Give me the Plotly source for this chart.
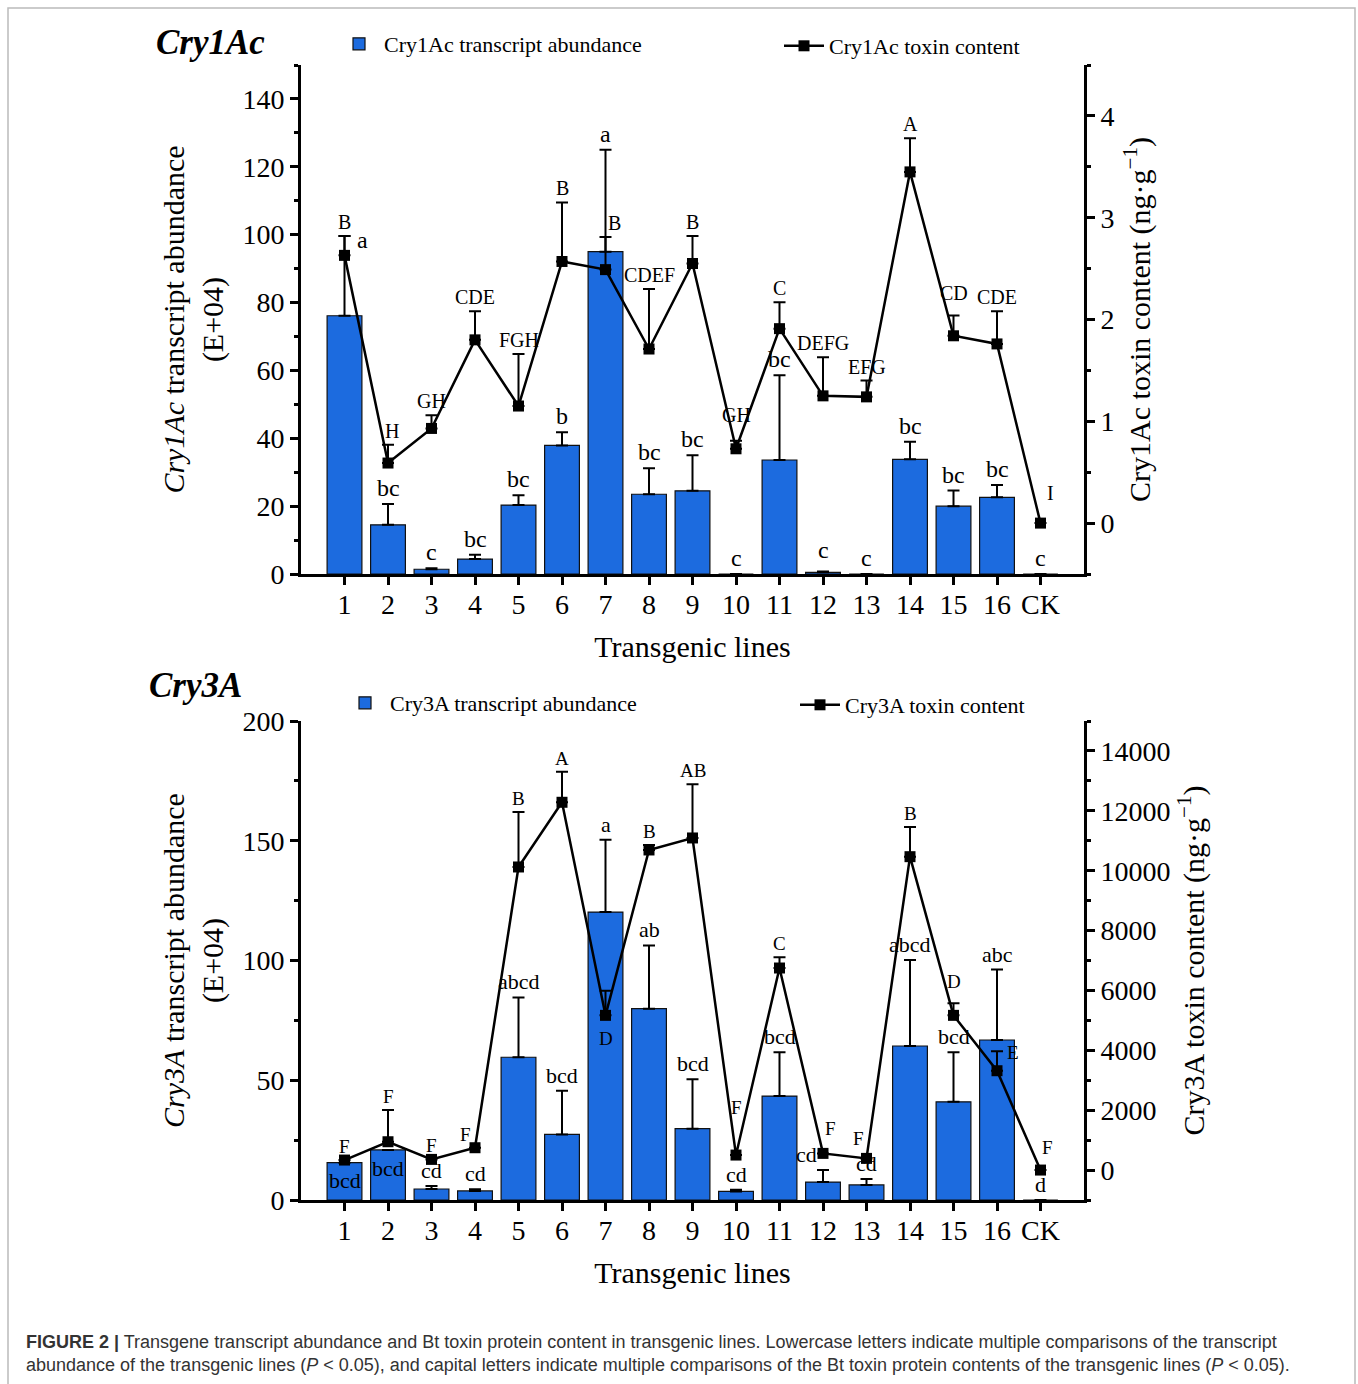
import plotly.graph_objects as go

# ---------------- data ----------------
lines = ["1", "2", "3", "4", "5", "6", "7", "8", "9", "10", "11", "12", "13", "14", "15", "16", "CK"]

cry1ac_transcript = [76.1, 14.5, 1.4, 4.4, 20.3, 37.9, 95.0, 23.5, 24.5, 0, 33.6, 0.5, 0, 33.8, 20.0, 22.6, 0]
cry1ac_transcript_err = [23.5, 6.1, 0.3, 1.3, 2.9, 3.9, 30.0, 7.7, 10.5, None, 25.0, 0.2, None, 5.2, 4.6, 3.6, None]
cry1ac_toxin = [2.63, 0.59, 0.93, 1.80, 1.15, 2.57, 2.49, 1.71, 2.55, 0.73, 1.91, 1.25, 1.24, 3.45, 1.84, 1.76, 0.0]
cry1ac_toxin_err = [0.19, 0.18, 0.13, 0.28, 0.51, 0.58, 0.32, 0.59, 0.27, 0.08, 0.26, 0.38, 0.16, 0.33, 0.20, 0.32, None]
cry1ac_transcript_letters = ["a", "bc", "c", "bc", "bc", "b", "a", "bc", "bc", "c", "bc", "c", "c", "bc", "bc", "bc", "c"]
cry1ac_toxin_letters = ["B", "H", "GH", "CDE", "FGH", "B", "B", "CDEF", "B", "GH", "C", "DEFG", "EFG", "A", "CD", "CDE", "I"]

cry3a_transcript = [15.6, 20.9, 4.6, 3.8, 59.6, 27.4, 120.2, 79.9, 29.8, 3.6, 43.4, 7.5, 6.3, 64.3, 41.0, 66.8, 0]
cry3a_transcript_err = [None, None, 1.2, 0.7, 25.0, 18.2, 30.2, 26.4, 20.6, 0.7, 18.3, 5.0, 2.5, 35.9, 20.7, 29.4, None]
cry3a_toxin = [334, 946, 356, 746, 10124, 12285, 5168, 10692, 11093, 501, 6749, 557, 390, 10468, 5168, 3318, 0]
cry3a_toxin_err = [None, 1060, None, None, 1837, 1023, 823, 167, 1793, None, 357, None, None, 992, 401, 648, None]
cry3a_transcript_letters = ["bcd", "bcd", "cd", "cd", "abcd", "bcd", "a", "ab", "bcd", "cd", "bcd", "cd", "cd", "abcd", "bcd", "abc", "d"]
cry3a_toxin_letters = ["F", "F", "F", "F", "B", "A", "D", "B", "AB", "F", "C", "F", "F", "B", "D", "E", "F"]

# ---------------- style ----------------
SERIF = "Liberation Serif, Times New Roman, serif"
BAR_COLOR = "#1c6bdf"
W, H = 1358, 1384
L, R, T, B = 301, 274, 65, 184
PW = W - L - R
PH = H - T - B
top_dom = [(1200 - 574) / PH, 1.0]
bot_dom = [0.0, (1200 - 721) / PH]


def px_x(p):
    return (p - L) / PW


def px_y(p):
    return (H - B - p) / PH


# label offsets (xshift, yshift) for letters that sit beside/inside marks
off_1ac_tr = {0: (18, -20), 11: (0, 6)}
off_1ac_tox = {1: (4, 0), 6: (9, 0), 9: (0, 12), 14: (0, 8), 16: (10, 16)}
off_3a_tr = {0: (0, -33), 1: (0, -34), 11: (-17, 0)}
off_3a_tox = {3: (-10, 0), 6: (0, -61), 9: (0, 34), 11: (7, 11), 12: (-8, 6), 14: (0, 8), 15: (16, -15), 16: (7, 9)}


def err_dict(errs):
    return dict(type="data", symmetric=False, array=errs,
                arrayminus=[0 if e is not None else None for e in errs],
                color="black", thickness=2, width=6)


fig = go.Figure()

# top panel
fig.add_trace(go.Bar(x=lines, y=cry1ac_transcript, name="Cry1Ac transcript abundance",
                     marker=dict(color=BAR_COLOR, line=dict(color="#111", width=1.2)),
                     width=0.8, error_y=err_dict(cry1ac_transcript_err),
                     xaxis="x", yaxis="y", legend="legend"))
fig.add_trace(go.Scatter(x=lines, y=cry1ac_toxin, name="Cry1Ac toxin content",
                         mode="lines+markers", line=dict(color="black", width=2.5),
                         marker=dict(symbol="square", size=11, color="black"),
                         error_y=err_dict(cry1ac_toxin_err), cliponaxis=False,
                         xaxis="x", yaxis="y2", legend="legend2"))

# bottom panel
fig.add_trace(go.Bar(x=lines, y=cry3a_transcript, name="Cry3A transcript abundance",
                     marker=dict(color=BAR_COLOR, line=dict(color="#111", width=1.2)),
                     width=0.8, error_y=err_dict(cry3a_transcript_err),
                     xaxis="x2", yaxis="y3", legend="legend3"))
fig.add_trace(go.Scatter(x=lines, y=cry3a_toxin, name="Cry3A toxin content",
                         mode="lines+markers", line=dict(color="black", width=2.5),
                         marker=dict(symbol="square", size=11, color="black"),
                         error_y=err_dict(cry3a_toxin_err), cliponaxis=False,
                         xaxis="x2", yaxis="y4", legend="legend4"))


def add_letters(vals, errs, letters, yref, size, offsets):
    xref = "x" if yref in ("y", "y2") else "x2"
    for i, (v, e, t) in enumerate(zip(vals, errs, letters)):
        dx, dy = offsets.get(i, (0, 0))
        fig.add_annotation(x=i, y=v + (e or 0), xref=xref, yref=yref, text=t,
                           showarrow=False, yanchor="bottom", xshift=dx, yshift=dy + 1,
                           font=dict(family=SERIF, size=size, color="black"))


add_letters(cry1ac_transcript, cry1ac_transcript_err, cry1ac_transcript_letters, "y", 24, off_1ac_tr)
add_letters(cry1ac_toxin, cry1ac_toxin_err, cry1ac_toxin_letters, "y2", 20, off_1ac_tox)
add_letters(cry3a_transcript, cry3a_transcript_err, cry3a_transcript_letters, "y3", 22, off_3a_tr)
add_letters(cry3a_toxin, cry3a_toxin_err, cry3a_toxin_letters, "y4", 19, off_3a_tox)

tickfont = dict(family=SERIF, size=28, color="black")
titlefont = dict(family=SERIF, size=30, color="black")
axis_common = dict(showline=True, linewidth=3, linecolor="black", ticks="outside",
                   ticklen=8, tickwidth=3, tickcolor="black", showgrid=False,
                   zeroline=False, tickfont=tickfont)
minor_common = dict(ticks="outside", ticklen=4, tickwidth=2.5, tickcolor="black", showgrid=False)
xtitle = dict(text="Transgenic lines", font=dict(family=SERIF, size=30, color="black"), standoff=18)
legfont = dict(family=SERIF, size=22, color="black")


def leg(xp, yp):
    return dict(x=px_x(xp), y=px_y(yp), xanchor="left", yanchor="middle",
                bgcolor="rgba(0,0,0,0)", font=legfont, itemwidth=40, borderwidth=0)


fig.update_layout(
    width=W, height=H,
    margin=dict(l=L, r=R, t=T, b=B),
    paper_bgcolor="white", plot_bgcolor="white",
    showlegend=True,
    xaxis=dict(domain=[0, 1], anchor="y", type="category", range=[-1, 17], title=xtitle,
               ticklabelstandoff=-5, **axis_common),
    xaxis2=dict(domain=[0, 1], anchor="y3", type="category", range=[-1, 17], title=xtitle,
                ticklabelstandoff=-5, **axis_common),
    yaxis=dict(domain=top_dom, anchor="x", range=[0, 150], dtick=20, tick0=0,
               minor=dict(dtick=10, **minor_common),
               title=dict(text="<i>Cry1Ac</i> transcript abundance<br>(E+04)", font=titlefont, standoff=10),
               **axis_common),
    yaxis2=dict(anchor="x", overlaying="y", side="right", range=[-0.5, 4.5], dtick=1, tick0=0,
                minor=dict(dtick=0.5, **minor_common),
                title=dict(text="Cry1Ac toxin content (ng·g<sup>−1</sup>)", font=titlefont, standoff=16),
                **axis_common),
    yaxis3=dict(domain=bot_dom, anchor="x2", range=[0, 200], dtick=50, tick0=0,
                minor=dict(dtick=25, **minor_common),
                title=dict(text="<i>Cry3A</i> transcript abundance<br>(E+04)", font=titlefont, standoff=10),
                **axis_common),
    yaxis4=dict(anchor="x2", overlaying="y3", side="right", range=[-1000, 15000], dtick=2000, tick0=0,
                tickformat="d",
                minor=dict(dtick=1000, **minor_common),
                title=dict(text="Cry3A toxin content (ng·g<sup>−1</sup>)", font=titlefont, standoff=14),
                **axis_common),
    legend=leg(334, 44),
    legend2=leg(779, 46),
    legend3=leg(340, 703),
    legend4=leg(795, 705),
)

# panel titles
fig.add_annotation(x=px_x(210), y=px_y(42), xref="paper", yref="paper",
                   text="<b><i>Cry1Ac</i></b>", showarrow=False, xanchor="center", yanchor="middle",
                   font=dict(family=SERIF, size=35, color="black"))
fig.add_annotation(x=px_x(195), y=px_y(685), xref="paper", yref="paper",
                   text="<b><i>Cry3A</i></b>", showarrow=False, xanchor="center", yanchor="middle",
                   font=dict(family=SERIF, size=35, color="black"))

# caption
caption = ("<b>FIGURE 2 |</b> Transgene transcript abundance and Bt toxin protein content in transgenic lines. "
           "Lowercase letters indicate multiple comparisons of the transcript<br>"
           "abundance of the transgenic lines (<i>P</i> &lt; 0.05), and capital letters indicate multiple "
           "comparisons of the Bt toxin protein contents of the transgenic lines (<i>P</i> &lt; 0.05).")
fig.add_annotation(x=px_x(24), y=px_y(1330), xref="paper", yref="paper",
                   text=caption, showarrow=False, xanchor="left", yanchor="top", align="left",
                   font=dict(family="Liberation Sans, Arial, sans-serif", size=18, color="#333"))

# page frame
fig.add_shape(type="rect", xref="paper", yref="paper",
              x0=px_x(8), x1=px_x(1355), y0=px_y(1395), y1=px_y(8),
              line=dict(color="#bbbbbb", width=1.5), layer="below")

fig.write_html("out.html", config={"displayModeBar": False},
               post_script="document.body.style.margin='0px';")
